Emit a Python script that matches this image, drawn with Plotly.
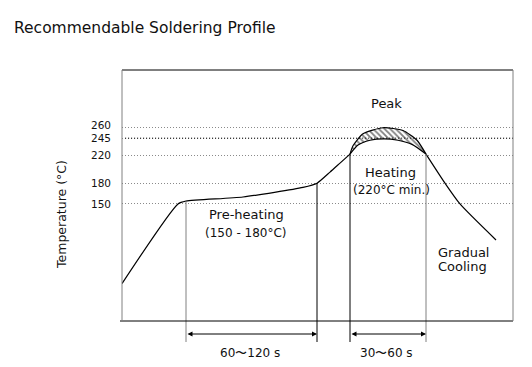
import plotly.graph_objects as go

# ---------------- data ----------------
title_text = "Recommendable Soldering Profile"
y_title = "Temperature (°C)"
y_tick_vals = [150, 180, 220, 245, 260]
y_tick_text = ["150", "180", "220", "245", "260"]

# temperature profile (schematic time units, °C), in three segments
rise_t = [0, 56, 64, 121, 181, 195, 208, 218, 228]
rise_T = [35, 150, 154, 160, 174, 180, 196, 209, 222]
inner_t = [228, 236, 248, 262, 276, 290, 304]
inner_T = [222, 235, 242, 244, 242, 236, 222]
fall_t = [304, 323, 338, 374]
fall_T = [222, 180, 150, 98]

# outer curve of the hatched peak zone (260 °C limit)
outer_t = [228, 231, 241, 261, 281, 295, 304]
outer_T = [222, 234, 251.5, 260, 256, 242, 222]

# vertical marker lines (time, temperature where they meet the curve)
marker_t = [64, 195, 228, 304]
marker_T = [154, 180, 222, 222]
marker_colors = ["#808080", "#000000", "#000000", "#808080"]

# time spans
span_starts = [64, 228]
span_ends = [195, 304]
span_labels = ["60〜120 s", "30〜60 s"]

X_RANGE = [0, 391]
Y_RANGE = [-19, 343.4]

FONT = "DejaVu Sans"
OFF = 8  # page body margin
W, H = 532 - 2 * OFF, 367 - 2 * OFF
ML = 122 - OFF
MT = 70 - OFF
MR = W - (513 - OFF)
MB = H - (321 - OFF)


def px_x(x):
    return (x - OFF - ML) / (W - ML - MR)


def px_y(y):
    return (H - MB - (y - OFF)) / (H - MT - MB)


LINE = dict(color="black", width=1.2, shape="spline", smoothing=0.6)

fig = go.Figure()

fig.add_trace(go.Scatter(x=rise_t, y=rise_T, mode="lines", line=LINE,
                         hoverinfo="skip", showlegend=False))
fig.add_trace(go.Scatter(x=fall_t, y=fall_T, mode="lines", line=LINE,
                         hoverinfo="skip", showlegend=False))
fig.add_trace(go.Scatter(x=inner_t, y=inner_T, mode="lines", line=LINE,
                         hoverinfo="skip", showlegend=False))
fig.add_trace(go.Scatter(
    x=outer_t, y=outer_T, mode="lines", fill="tonexty",
    fillcolor="white",
    fillpattern=dict(shape="\\", size=4, solidity=0.45, fgcolor="black", bgcolor="white"),
    line=LINE, hoverinfo="skip", showlegend=False))

for t, T, c in zip(marker_t, marker_T, marker_colors):
    fig.add_trace(go.Scatter(
        x=[t, t], y=[T, Y_RANGE[0]], mode="lines",
        line=dict(color=c, width=1), hoverinfo="skip", showlegend=False))

shapes = []
for t, c in zip(marker_t, marker_colors):
    shapes.append(dict(type="line", xref="x", yref="paper", x0=t, x1=t,
                       y0=0, y1=px_y(342), line=dict(color=c, width=1)))
shapes.append(dict(type="line", xref="paper", yref="y", x0=0.008, x1=1, y0=245, y1=245,
                   line=dict(color="black", width=1, dash="1px,2px")))
shapes += [
    dict(type="line", xref="paper", yref="paper", x0=0, x1=1, y0=1, y1=1,
         line=dict(color="black", width=1)),
    dict(type="line", xref="paper", yref="paper", x0=px_x(120), x1=1, y0=0, y1=0,
         line=dict(color="black", width=1)),
    dict(type="line", xref="paper", yref="paper", x0=0, x1=0, y0=0, y1=1,
         line=dict(color="#808080", width=1)),
    dict(type="line", xref="paper", yref="paper", x0=1, x1=1, y0=0, y1=1,
         line=dict(color="#808080", width=1)),
]

ann = []


def text(s, x, y, size=13, xanchor="center", angle=0):
    ann.append(dict(text=s, xref="paper", yref="paper", x=px_x(x), y=px_y(y),
                    xanchor=xanchor, yanchor="middle", showarrow=False,
                    textangle=angle, font=dict(family=FONT, size=size, color="#111")))


text(title_text, 12, 28, size=15.5, xanchor="left")
text(y_title, 62, 215, size=12.5, angle=-90)
text("Peak", 386, 103)
text("Heating", 390, 172)
text("(220°C min.)", 391, 190, size=12)
text("Pre-heating", 246, 215)
text("(150 - 180°C)", 246, 233, size=12)
text("Gradual", 436, 252, xanchor="left")
text("Cooling", 436, 266, xanchor="left")

# y tick labels (the top one sits slightly above its line, as in the original)
tick_shift = {260: 3}
for v, lab in zip(y_tick_vals, y_tick_text):
    ann.append(dict(text=lab, xref="paper", x=px_x(112), xanchor="right",
                    yref="y", y=v, yanchor="middle", yshift=tick_shift.get(v, 0),
                    showarrow=False, borderpad=0,
                    font=dict(family=FONT, size=10.5, color="#111")))

for s0, s1, lab in zip(span_starts, span_ends, span_labels):
    ann.append(dict(text="", x=s1, xref="x", y=px_y(334), yref="paper",
                    ax=s0, axref="x", ay=0, ayref="pixel",
                    showarrow=True, arrowhead=2, arrowside="end+start",
                    arrowsize=1, arrowwidth=1, arrowcolor="black",
                    standoff=0, startstandoff=0))
    ann.append(dict(text=lab, x=(s0 + s1) / 2 - 2, xref="x", y=px_y(353), yref="paper",
                    showarrow=False, xanchor="center", yanchor="middle",
                    font=dict(family=FONT, size=12, color="#111")))

fig.update_layout(
    width=W, height=H,
    margin=dict(l=ML, r=MR, t=MT, b=MB, pad=0),
    paper_bgcolor="white", plot_bgcolor="white",
    showlegend=False,
    shapes=shapes, annotations=ann,
    xaxis=dict(range=X_RANGE, visible=False, fixedrange=True),
    yaxis=dict(range=Y_RANGE, tickmode="array", tickvals=y_tick_vals,
               showticklabels=False,
               showgrid=True, gridcolor="#8a8a8a", gridwidth=1, griddash="1px,2px",
               zeroline=False, showline=False, ticks="", fixedrange=True),
)

fig.write_html("out.html")
